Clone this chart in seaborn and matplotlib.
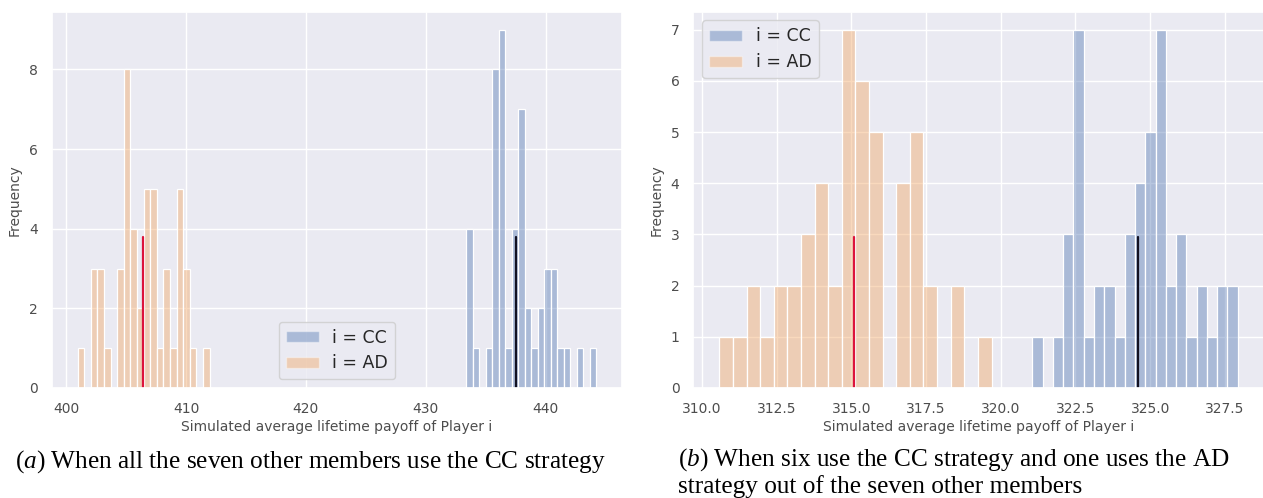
import numpy as np
import pandas as pd
import matplotlib
matplotlib.use("Agg")
import matplotlib.pyplot as plt
from matplotlib.patches import Patch
import seaborn as sns

# Histogram counts (20 equal-width bins over each series' range)
# Panel (a): all seven other members use CC
a_cc_range = (433.37, 444.22)
a_cc_counts = [4, 1, 0, 1, 8, 9, 1, 4, 7, 2, 1, 2, 3, 3, 1, 1, 0, 1, 0, 1]
a_ad_range = (400.95, 411.97)
a_ad_counts = [1, 0, 3, 3, 1, 0, 3, 8, 4, 2, 5, 5, 1, 3, 1, 5, 3, 1, 0, 1]
a_cc_mean = 437.5
a_ad_mean = 406.4

# Panel (b): six use CC, one uses AD
b_cc_range = (321.06, 327.93)
b_cc_counts = [1, 0, 1, 3, 7, 1, 2, 2, 1, 3, 4, 5, 7, 2, 3, 1, 2, 1, 2, 2]
b_ad_range = (310.58, 319.69)
b_ad_counts = [1, 1, 2, 1, 2, 2, 3, 4, 2, 7, 6, 5, 0, 4, 5, 2, 0, 2, 0, 1]
b_cc_mean = 324.6
b_ad_mean = 315.1

series_labels = ["i = CC", "i = AD"]
xlabel = "Simulated average lifetime payoff of Player i"
ylabel = "Frequency"
caption_a = r"($\mathit{a}$) When all the seven other members use the CC strategy"
caption_b1 = r"($\mathit{b}$) When six use the CC strategy and one uses the AD"
caption_b2 = "strategy out of the seven other members"

sns.set_theme(style="darkgrid")
plt.rcParams["font.family"] = ["DejaVu Sans"]
plt.rcParams["mathtext.fontset"] = "custom"
plt.rcParams["mathtext.rm"] = "Liberation Serif"
plt.rcParams["mathtext.it"] = "Liberation Serif:italic"

cc_color = "#4C72B0"
ad_color = "#F2A25A"
ALPHA = 0.4

fig = plt.figure(figsize=(12.63, 4.98), dpi=100)
ax_a = fig.add_axes([0.0409, 0.2209, 0.4516, 0.7556])
ax_b = fig.add_axes([0.5490, 0.2209, 0.4515, 0.7556])


def draw_hist(ax, rng, counts, color):
    edges = np.linspace(rng[0], rng[1], len(counts) + 1)
    centers = (edges[:-1] + edges[1:]) / 2
    df = pd.DataFrame({"value": centers, "count": np.asarray(counts, float)})
    sns.histplot(data=df, x="value", weights="count", bins=list(edges),
                 color=color, alpha=ALPHA, edgecolor="white", linewidth=0.9,
                 ax=ax)


def style_axes(ax, legend_loc):
    ax.set_xlabel(xlabel, fontsize=10, color="0.3", labelpad=3)
    ax.set_ylabel(ylabel, fontsize=10, color="0.3", labelpad=5)
    ax.tick_params(axis="both", labelsize=10, labelcolor="0.3", pad=4)
    handles = [Patch(facecolor=cc_color, alpha=ALPHA, edgecolor="white"),
               Patch(facecolor=ad_color, alpha=ALPHA, edgecolor="white")]
    ax.legend(handles, series_labels, loc=legend_loc, fontsize=12.5,
              handlelength=1.9, handleheight=0.6, borderpad=0.4,
              labelspacing=0.45)


draw_hist(ax_a, a_cc_range, a_cc_counts, cc_color)
draw_hist(ax_a, a_ad_range, a_ad_counts, ad_color)
ax_a.axvline(a_ad_mean, ymax=0.4, color="crimson", lw=1.6)
ax_a.axvline(a_cc_mean, ymax=0.4, color="#111122", lw=1.6)
ax_a.set_xticks([400, 410, 420, 430, 440])
style_axes(ax_a, "lower center")

draw_hist(ax_b, b_cc_range, b_cc_counts, cc_color)
draw_hist(ax_b, b_ad_range, b_ad_counts, ad_color)
ax_b.axvline(b_ad_mean, ymax=0.4, color="crimson", lw=1.6)
ax_b.axvline(b_cc_mean, ymax=0.4, color="#111122", lw=1.6)
ax_b.set_xticks([310.0, 312.5, 315.0, 317.5, 320.0, 322.5, 325.0, 327.5])
ax_b.xaxis.set_major_formatter(matplotlib.ticker.FormatStrFormatter("%.1f"))
style_axes(ax_b, "upper left")

cap_kw = dict(family="Liberation Serif", fontsize=18.2, color="black", va="baseline")
fig.text(0.012, 0.062, caption_a, **cap_kw)
fig.text(0.537, 0.066, caption_b1, **cap_kw)
fig.text(0.537, 0.010, caption_b2, **cap_kw)

fig.savefig("out.png", dpi=100)
